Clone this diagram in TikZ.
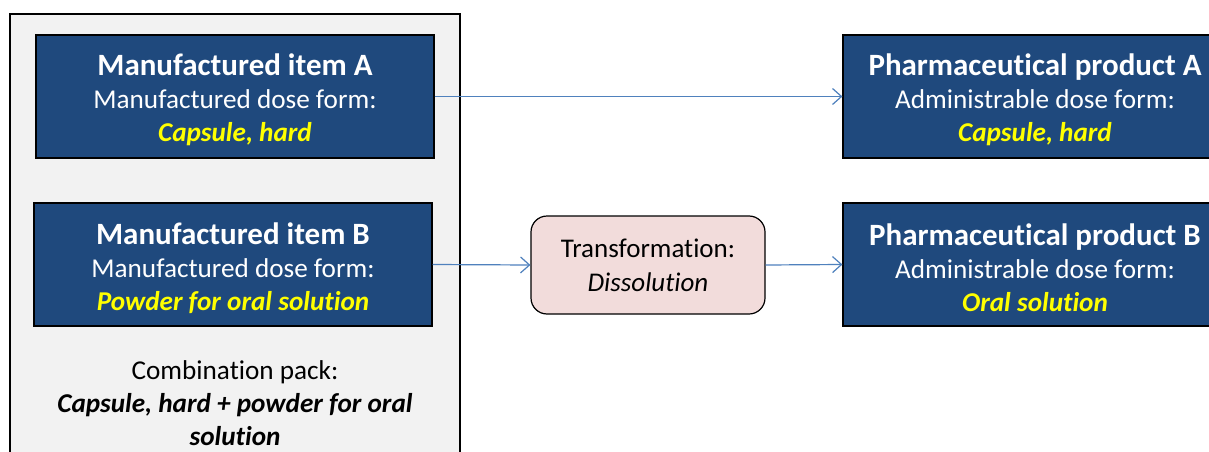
\documentclass[tikz,border=0pt]{standalone}
\usepackage{fontspec}
\setmainfont{Carlito}[Ligatures=NoCommon]
\usetikzlibrary{arrows.meta}
\definecolor{navy}{HTML}{1F497D}
\definecolor{packgray}{HTML}{F2F2F2}
\definecolor{pinkfill}{HTML}{F2DCDB}
\definecolor{arrowblue}{HTML}{4F81BD}
\definecolor{hiyellow}{HTML}{FFFF00}
\tikzset{
  bluebox/.style={draw=black, line width=1.2pt, fill=navy, text=white, align=center,
    minimum width=398pt, minimum height=123pt, inner sep=0pt,
    font=\fontsize{27.2}{33}\selectfont},
  prodbox/.style={bluebox, minimum width=384pt},
  packbox/.style={draw=black, line width=1.2pt, fill=packgray, minimum width=450pt, minimum height=470pt, inner sep=0pt},
  transbox/.style={draw=black, line width=1.2pt, fill=pinkfill, rounded corners=16pt, align=center,
    minimum width=234pt, minimum height=98pt, inner sep=0pt, font=\fontsize{27}{34}\selectfont},
  packtext/.style={align=center, font=\fontsize{27.2}{33}\selectfont},
  flow/.style={draw=arrowblue, line width=1.2pt, -{Straight Barb[length=9pt,width=16pt,line width=1.2pt]}},
}
\newcommand{\ttlfont}{\fontsize{31}{35}\selectfont\bfseries}
\newcommand{\ttl}[1]{\rule{0pt}{29pt}{\ttlfont #1}}
\newcommand{\hl}[1]{\textcolor{hiyellow}{\bfseries\itshape #1}}
\begin{document}
\begin{tikzpicture}[x=1pt,y=-1pt]
\useasboundingbox (0,0) rectangle (1209,452);
\clip (0,0) rectangle (1209,452);
\fill[white] (0,0) rectangle (1209,452);
\node[packbox] (pack) at (235,249) {};
\node[bluebox] (ma) at (235,96.5) {\ttl{Manufactured item A}\\Manufactured dose form:\\\hl{Capsule, hard}};
\node[bluebox] (mb) at (233,264.5) {\ttl{Manufactured item B}\\Manufactured dose form:\\\hl{Powder for oral solution}};
\node[packtext] (ptxt) at (235,403) {Combination pack:\\\textbf{\textit{Capsule, hard + powder for oral}}\\\textbf{\textit{solution}}};
\node[transbox] (tr) at (648,265) {Transformation:\\\textit{Dissolution}};
\node[prodbox] (pa) at (1035,96.5) {\ttl{Pharmaceutical product A}\\Administrable dose form:\\\hl{Capsule, hard}};
\node[prodbox] (pb) at (1035,264.5) {\ttl{Pharmaceutical product B}\\Administrable dose form:\\\hl{Oral solution}};
\draw[flow] (ma.east) -- (pa.west);
\draw[flow] (mb.east) -- (tr.west);
\draw[flow] (tr.east) -- (pb.west);
\end{tikzpicture}
\end{document}
